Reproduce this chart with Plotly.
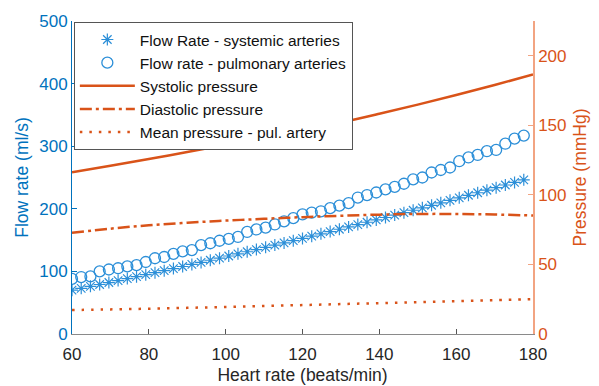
import plotly.graph_objects as go

# ---- data ----
hr_flow = [round(60 + 2.4 * i, 1) for i in range(50)]
flow_systemic = [70.0, 73.0, 76.1, 79.1, 82.2, 85.3, 88.5, 91.6, 94.8, 98.0,
                 101.2, 104.5, 107.8, 111.1, 114.4, 117.8, 121.2, 124.6, 128.0, 131.4,
                 134.9, 138.4, 142.0, 145.5, 149.1, 152.7, 156.3, 160.0, 163.6, 167.3,
                 171.0, 174.8, 178.5, 182.3, 186.1, 190.0, 193.8, 197.7, 201.6, 205.6,
                 209.5, 213.5, 217.5, 221.6, 225.6, 229.7, 233.8, 238.0, 242.1, 246.3]
flow_pulmonary = [88, 91, 92, 100, 103, 105, 108, 110, 115, 121,
                  123, 128, 132, 134, 142, 145, 149, 152, 155, 163,
                  167, 170, 175, 180, 185, 191, 194, 196, 201, 205,
                  209, 218, 222, 226, 231, 235, 240, 247, 250, 258,
                  262, 266, 276, 282, 286, 292, 294, 304, 312, 317]

hr_p = [60, 70, 80, 90, 100, 110, 120, 130, 140, 150, 160, 170, 180]
systolic = [116.2, 121.0, 125.8, 130.8, 135.9, 141.1, 146.4, 152.0, 158.3, 164.9, 171.8, 179.0, 186.5]
diastolic = [72.7, 75.7, 78.2, 80.0, 81.5, 82.8, 84.0, 85.0, 85.8, 86.3, 86.3, 85.9, 85.2]
mean_pul = [17.2, 17.7, 18.2, 18.8, 19.4, 20.1, 20.8, 21.5, 22.2, 22.9, 23.6, 24.3, 25.0]

BLUE = "#0072BD"
MBLUE = "#2C8FD8"
ORANGE = "#D95319"
FONT = "Liberation Sans, Arial, sans-serif"

fig = go.Figure()
fig.add_trace(go.Scatter(x=hr_flow, y=flow_systemic, mode="markers",
                         name="Flow Rate - systemic arteries",
                         marker=dict(symbol="asterisk-open", size=10, color=MBLUE,
                                     line=dict(color=MBLUE, width=1.2))))
fig.add_trace(go.Scatter(x=hr_flow, y=flow_pulmonary, mode="markers",
                         name="Flow rate - pulmonary arteries",
                         marker=dict(symbol="circle-open", size=11, color=MBLUE,
                                     line=dict(color=MBLUE, width=1.3))))
fig.add_trace(go.Scatter(x=hr_p, y=systolic, mode="lines", yaxis="y2",
                         name="Systolic pressure",
                         line=dict(color=ORANGE, width=2.5, shape="spline")))
fig.add_trace(go.Scatter(x=hr_p, y=diastolic, mode="lines", yaxis="y2",
                         name="Diastolic pressure",
                         line=dict(color=ORANGE, width=2.5, shape="spline",
                                   dash="12px,4px,3px,4px")))
fig.add_trace(go.Scatter(x=hr_p, y=mean_pul, mode="lines", yaxis="y2",
                         name="Mean pressure - pul. artery",
                         line=dict(color=ORANGE, width=2.5, shape="spline",
                                   dash="2.5px,7px")))

fig.update_layout(
    width=599, height=386,
    margin=dict(l=72, r=66, t=21, b=52),
    paper_bgcolor="white", plot_bgcolor="white",
    font=dict(family=FONT, size=16, color="#262626"),
    showlegend=True,
    legend=dict(x=0.004, y=0.997, xanchor="left", yanchor="top",
                bgcolor="white", bordercolor="#555555", borderwidth=1,
                font=dict(family=FONT, size=15.5, color="#111111"),
                itemwidth=55, tracegroupgap=0),
    xaxis=dict(range=[60, 180], tickvals=[60, 80, 100, 120, 140, 160, 180],
               automargin=False,
               showgrid=False, zeroline=False, showline=True,
               linecolor="#8a8a8a", linewidth=1,
               ticks="inside", ticklen=5, tickcolor="#555555",
               ticklabelstandoff=5,
               tickfont=dict(size=17, color="#262626"),
               title=dict(text="Heart rate (beats/min)", font=dict(size=17.5, color="#262626"),
                          standoff=5)),
    yaxis=dict(range=[0, 500], tickvals=[0, 100, 200, 300, 400, 500],
               automargin=False,
               showgrid=False, zeroline=False, showline=True,
               linecolor=BLUE, linewidth=1,
               ticks="inside", ticklen=5, tickcolor=BLUE,
               tickfont=dict(size=17, color=BLUE),
               title=dict(text="Flow rate (ml/s)", font=dict(size=17.5, color=BLUE),
                          standoff=6)),
    yaxis2=dict(range=[0, 225], tickvals=[0, 50, 100, 150, 200],
                overlaying="y", side="right", automargin=False,
                showgrid=False, zeroline=False, showline=True,
                linecolor="#F2A482", linewidth=1.5,
                ticks="inside", ticklen=5, tickcolor="#F2A482",
                tickfont=dict(size=17, color=ORANGE),
                title=dict(text="Pressure (mmHg)", font=dict(size=17.5, color=ORANGE),
                           standoff=8)),
)

fig.write_html("out.html")
